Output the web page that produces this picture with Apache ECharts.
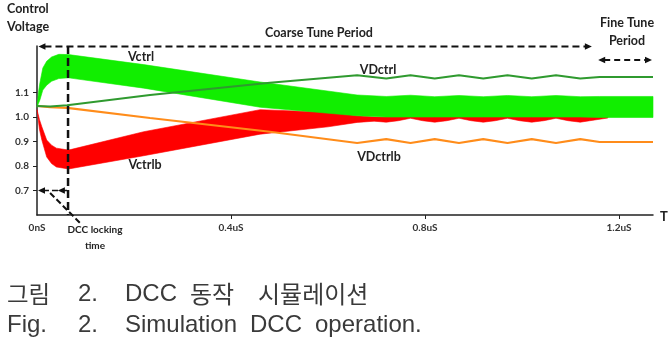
<!DOCTYPE html>
<html><head><meta charset="utf-8">
<script src="https://cdn.jsdelivr.net/npm/echarts@6/dist/echarts.min.js"></script>
<style>html,body{margin:0;padding:0;background:#fff;}#c{width:670px;height:348px;}</style>
</head><body><div id="c"></div>
<script>
// ---- axis ticks ----
const timeTicks = [0, 0.4, 0.8, 1.2];
const timeTickLabels = ['0nS', '0.4uS', '0.8uS', '1.2uS'];
const voltTicks = [0.7, 0.8, 0.9, 1.0, 1.1];
const voltTickLabels = ['0.7', '0.8', '0.9', '1.0', '1.1'];

// ---- Vctrl (green band: lower / upper envelope) ----
const vctrlT  = [0, 0.003, 0.006, 0.012, 0.02, 0.03, 0.045, 0.065, 0.22, 0.46, 0.66, 0.72, 0.77, 0.82, 0.87, 0.92, 0.97, 1.02, 1.07, 1.12, 1.16, 1.27];
const vctrlHi = [1.04, 1.10, 1.14, 1.20, 1.228, 1.245, 1.256, 1.255, 1.214, 1.143, 1.09, 1.084, 1.089, 1.083, 1.088, 1.083, 1.088, 1.083, 1.088, 1.083, 1.084, 1.084];
const vctrlLo = [1.04, 1.055, 1.07, 1.11, 1.13, 1.146, 1.157, 1.16, 1.118, 1.04, 1.005, 1.0, 1.0, 1.0, 1.0, 1.0, 1.0, 1.0, 1.0, 1.0, 0.998, 0.998];

// ---- Vctrlb (red band) ----
const vctrlbT  = [0, 0.005, 0.01, 0.02, 0.03, 0.04, 0.065, 0.22, 0.46, 0.6, 0.66, 0.695, 0.72, 0.745, 0.77, 0.795, 0.82, 0.845, 0.87, 0.895, 0.92, 0.945, 0.97, 0.995, 1.02, 1.045, 1.07, 1.095, 1.12, 1.15, 1.177];
const vctrlbHi = [1.03, 0.99, 0.96, 0.906, 0.885, 0.873, 0.865, 0.94, 1.03, 1.02, 1.005, 1.0, 1.0, 1.0, 1.0, 1.0, 1.0, 1.0, 1.0, 1.0, 1.0, 1.0, 1.0, 1.0, 1.0, 1.0, 1.0, 1.0, 1.0, 1.0, 1.0];
const vctrlbLo = [1.03, 0.95, 0.906, 0.837, 0.81, 0.796, 0.788, 0.842, 0.93, 0.96, 0.978, 0.983, 0.979, 0.985, 0.995, 0.985, 0.979, 0.985, 0.995, 0.985, 0.979, 0.985, 0.995, 0.985, 0.979, 0.985, 0.995, 0.985, 0.979, 0.988, 0.996];

// ---- VDctrl / VDctrlb lines ----
const vdT     = [0, 0.027, 0.062, 0.233, 0.48, 0.66, 0.72, 0.77, 0.82, 0.87, 0.92, 0.97, 1.02, 1.07, 1.12, 1.16, 1.27];
const vdctrl  = [1.045, 1.043, 1.048, 1.09, 1.14, 1.171, 1.157, 1.171, 1.157, 1.171, 1.157, 1.171, 1.157, 1.171, 1.157, 1.163, 1.163];
const vdctrlb = [1.045, 1.04, 1.037, 0.996, 0.94, 0.894, 0.91, 0.894, 0.91, 0.894, 0.91, 0.894, 0.91, 0.894, 0.91, 0.898, 0.898];

const lockTime = 0.064;

const pairs = (t, v) => t.map((x, i) => [x, v[i]]);
const triples = (t, lo, hi) => t.map((x, i) => [x, lo[i], hi[i]]);

const FONT = 'Lato, "Open Sans", sans-serif';
const chart = echarts.init(document.getElementById('c'), null, {renderer: 'canvas'});

function bandSeries(name, data, color, z) {
  return {
    name: name, type: 'custom', z: z, silent: true, data: data,
    encode: {x: 0, y: [1, 2]},
    renderItem: function (params, api) {
      if (params.dataIndex !== 0) return null;
      const top = [], bot = [];
      for (let i = 0; i < data.length; i++) {
        top.push(api.coord([data[i][0], data[i][2]]));
        bot.push(api.coord([data[i][0], data[i][1]]));
      }
      const pts = top.concat(bot.reverse());
      return {type: 'polygon', shape: {points: pts}, style: {fill: color, stroke: color, lineWidth: 0.6}};
    }
  };
}

chart.setOption({
  animation: false,
  grid: {left: 37, right: 17, top: 46, bottom: 133},
  xAxis: {
    type: 'value', min: 0, max: 1.27,
    axisLine: {onZero: false, lineStyle: {color: '#222', width: 1.5}},
    axisTick: {show: true, customValues: timeTicks.slice(1), length: 4, lineStyle: {color: '#222'}},
    axisLabel: {customValues: timeTicks, margin: 8, color: '#333', fontFamily: FONT, fontWeight: 'bold', fontSize: 10,
      formatter: v => { const i = timeTicks.findIndex(t => Math.abs(t - v) < 1e-6); return i >= 0 ? timeTickLabels[i] : ''; }},
    splitLine: {show: false}
  },
  yAxis: {
    type: 'value', min: 0.6, max: 1.29,
    axisLine: {show: true, onZero: false, lineStyle: {color: '#222', width: 1.5}},
    axisTick: {show: true, customValues: voltTicks, length: 4, lineStyle: {color: '#222'}},
    axisLabel: {customValues: voltTicks, margin: 8, color: '#333', fontFamily: FONT, fontWeight: 'bold', fontSize: 10,
      formatter: v => { const i = voltTicks.findIndex(t => Math.abs(t - v) < 1e-6); return i >= 0 ? voltTickLabels[i] : ''; }},
    splitLine: {show: false}
  },
  series: [
    bandSeries('Vctrlb', triples(vctrlbT, vctrlbLo, vctrlbHi), '#ff0000', 2),
    bandSeries('Vctrl', triples(vctrlT, vctrlLo, vctrlHi), '#11ee00', 3),
    {name: 'VDctrlb', type: 'line', data: pairs(vdT, vdctrlb), symbol: 'none', z: 4,
     lineStyle: {color: '#ff8c1a', width: 2.2}},
    {name: 'VDctrl', type: 'line', data: pairs(vdT, vdctrl), symbol: 'none', z: 4,
     lineStyle: {color: '#2f9a2f', width: 2}}
  ]
});

// ---- annotations (positioned through the chart's own scales) ----
const P = (t, v) => chart.convertToPixel({gridIndex: 0}, [t, v]);
const g = [];
function dashed(a, b, w, dash) {
  g.push({type: 'line', z: 20, shape: {x1: a[0], y1: a[1], x2: b[0], y2: b[1]},
    style: {stroke: '#111', lineWidth: w, lineDash: dash}});
}
function head(p, dir) {
  const L = 7, W = 3.2;
  g.push({type: 'polygon', z: 21, shape: {points: [[p[0], p[1]], [p[0] - dir * L, p[1] - W], [p[0] - dir * L, p[1] + W]]},
    style: {fill: '#111'}});
}
dashed(P(lockTime, 1.29), P(lockTime, 0.6), 2.5, [8, 4]);
const c1 = P(0.003, 1.288), c2 = P(1.144, 1.288);
dashed([c1[0] + 6, c1[1]], [c2[0] - 6, c2[1]], 2, [7, 4]); head(c1, -1); head(c2, 1);
const f1 = P(1.157, 1.233), f2 = P(1.268, 1.233);
dashed([f1[0] + 6, f1[1]], [f2[0] - 6, f2[1]], 2, [6, 4]); head(f1, -1); head(f2, 1);
const l1 = P(0.002, 0.70), l2 = P(lockTime, 0.70);
dashed([l1[0] + 5, l1[1]], l2, 1.5, [6, 3]); head(l1, -1); head(P(0.043, 0.70), -1);
dashed(P(0.027, 0.69), P(0.089, 0.567), 2, [6, 3]);

function txt(text, x, y, size, weight, align, color, family) {
  g.push({type: 'text', z: 30, x: x, y: y,
    style: {text: text, fontSize: size, fontWeight: weight, fontFamily: family || FONT,
      fill: color || '#222', align: align || 'center', verticalAlign: 'middle', lineHeight: size + 6}});
}
txt('Control\nVoltage', 7, 18, 12.5, 'bold', 'left');
txt('Coarse Tune Period', 319, 33, 12.5, 'bold');
txt('Fine Tune\nPeriod', 627, 32, 12.5, 'bold');
txt('Vctrl', 141, 57, 12.5, 'bold');
txt('VDctrl', 378, 70, 12.5, 'bold');
txt('Vctrlb', 145, 165, 12.5, 'bold');
txt('VDctrlb', 379, 157, 12.5, 'bold');
txt('T', 664, 217, 13, 'bold');
txt('DCC locking', 95, 230, 10, 'bold');
txt('time', 95, 246, 10, 'bold');

const CAP = '"Liberation Sans", Arial, sans-serif';
const KR = '"Noto Sans CJK KR", sans-serif';
const capColor = '#3a3a3a';
txt('그림', 7, 294, 23.5, 'normal', 'left', capColor, KR);
txt('2.', 78, 294, 24, 'normal', 'left', capColor, CAP);
txt('DCC', 125, 294, 24, 'normal', 'left', capColor, CAP);
txt('동작', 190, 294, 24, 'normal', 'left', capColor, KR);
txt('시뮬레이션', 258, 294, 24, 'normal', 'left', capColor, KR);
txt('Fig.', 7, 325, 24, 'normal', 'left', capColor, CAP);
txt('2.', 78, 325, 24, 'normal', 'left', capColor, CAP);
txt('Simulation', 125, 325, 24, 'normal', 'left', capColor, CAP);
txt('DCC', 250, 325, 24, 'normal', 'left', capColor, CAP);
txt('operation.', 315, 325, 24, 'normal', 'left', capColor, CAP);

chart.setOption({graphic: g});
</script></body></html>
